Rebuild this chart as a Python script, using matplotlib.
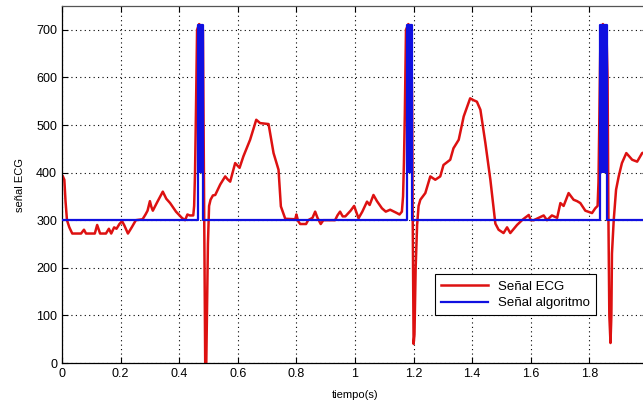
import matplotlib.pyplot as plt
from matplotlib.ticker import FuncFormatter

plt.rcParams['font.family'] = ['Liberation Sans', 'DejaVu Sans']

# Señal ECG (tiempo en s, amplitud)
t_ecg = [0.003, 0.008, 0.012, 0.017, 0.025, 0.035, 0.065, 0.075, 0.082, 0.112,
         0.120, 0.130, 0.150, 0.160, 0.168, 0.178, 0.186, 0.196, 0.205, 0.212,
         0.225, 0.238, 0.252, 0.275, 0.285, 0.292, 0.300, 0.305, 0.310, 0.325,
         0.344, 0.356, 0.369, 0.389, 0.409, 0.420, 0.428, 0.436, 0.448, 0.451,
         0.454, 0.457, 0.461, 0.468, 0.476, 0.481, 0.484, 0.487, 0.489, 0.492,
         0.495, 0.498, 0.502, 0.507, 0.515, 0.523, 0.540, 0.557, 0.565, 0.574,
         0.591, 0.606, 0.619, 0.642, 0.663, 0.676, 0.705, 0.722, 0.732, 0.739,
         0.747, 0.762, 0.796, 0.800, 0.806, 0.813, 0.833, 0.840, 0.855, 0.864,
         0.872, 0.883, 0.892, 0.932, 0.940, 0.949, 0.958, 0.967, 0.985, 0.997,
         1.004, 1.012, 1.025, 1.041, 1.050, 1.063, 1.075, 1.092, 1.105, 1.120,
         1.143, 1.152, 1.160, 1.164, 1.167, 1.170, 1.174, 1.182, 1.191, 1.195,
         1.197, 1.200, 1.203, 1.207, 1.212, 1.217, 1.223, 1.240, 1.257, 1.274,
         1.291, 1.302, 1.325, 1.336, 1.354, 1.371, 1.393, 1.405, 1.416, 1.428,
         1.445, 1.462, 1.479, 1.490, 1.507, 1.519, 1.530, 1.553, 1.570, 1.580,
         1.593, 1.600, 1.610, 1.627, 1.644, 1.655, 1.672, 1.690, 1.701, 1.712,
         1.729, 1.746, 1.758, 1.769, 1.786, 1.809, 1.820, 1.828, 1.831, 1.834,
         1.838, 1.846, 1.858, 1.862, 1.865, 1.868, 1.872, 1.875, 1.877, 1.883,
         1.891, 1.900, 1.911, 1.926, 1.946, 1.963, 1.980, 2.000]
v_ecg = [392, 385, 340, 300, 285, 272, 272, 280, 272, 272,
         290, 272, 272, 282, 272, 285, 282, 292, 298, 290,
         272, 285, 300, 302, 312, 320, 340, 328, 320, 338,
         360, 345, 336, 318, 305, 300, 312, 310, 310, 330,
         400, 520, 700, 712, 705, 700, 420, 150, -20, -20,
         120, 250, 330, 343, 352, 353, 375, 392, 386, 381,
         420, 410, 434, 469, 511, 504, 502, 441, 420, 406,
         329, 303, 302, 312, 298, 292, 292, 300, 305, 318,
         305, 292, 300, 300, 310, 318, 308, 308, 320, 330,
         318, 304, 318, 339, 332, 353, 340, 325, 318, 322,
         315, 312, 318, 350, 420, 520, 700, 712, 700, 550,
         300, 40, 60, 200, 290, 330, 343, 357, 392, 385,
         392, 416, 427, 451, 469, 518, 556, 552, 549, 532,
         462, 385, 293, 280, 273, 285, 273, 290, 300, 305,
         311, 300, 300, 305, 310, 300, 310, 305, 336, 330,
         357, 343, 340, 336, 320, 315, 325, 330, 380, 520,
         700, 712, 700, 600, 300, 100, 42, 100, 230, 300,
         364, 392, 420, 441, 427, 423, 441, 445]

# Señal del algoritmo: umbral 300 y pulsos en los complejos QRS
t_alg = [0.0,
         0.464, 0.464, 0.482, 0.482,
         1.177, 1.177, 1.196, 1.196,
         1.837, 1.837, 1.860, 1.860,
         2.0]
v_alg = [300,
         300, 710, 710, 300,
         300, 710, 710, 300,
         300, 710, 710, 300,
         300]
# zona rellena de cada pulso (inicio, fin, base, tope)
pulse_start = [0.4655, 1.1785, 1.8385]
pulse_end = [0.482, 1.196, 1.860]
pulse_low = 400
pulse_top = 710

red = '#dd1111'
blue = '#1010e0'

fig = plt.figure(figsize=(6.43, 4.08), dpi=100)
ax = fig.add_axes([62 / 643, 45 / 408, 586 / 643, 357 / 408])

ax.plot(t_ecg, v_ecg, color=red, lw=1.8, label='Señal ECG', zorder=2)
ax.plot(t_alg, v_alg, color=blue, lw=1.6, label='Señal algoritmo', zorder=3)
for a, b in zip(pulse_start, pulse_end):
    ax.fill_between([a, b], pulse_low, pulse_top, color=blue, lw=0, zorder=3)

ax.set_xlim(0, 2)
ax.set_ylim(0, 750)
ax.set_xticks([0, 0.2, 0.4, 0.6, 0.8, 1, 1.2, 1.4, 1.6, 1.8])
ax.set_yticks(range(0, 701, 100))
ax.xaxis.set_major_formatter(FuncFormatter(lambda v, p: f'{v:g}'))
ax.tick_params(direction='in', top=True, right=True, labelsize=9, length=4, width=0.8)
ax.grid(True, linestyle=(0, (1, 3)), color='black', lw=0.8)
for s in ax.spines.values():
    s.set_linewidth(0.9)
ax.spines['top'].set_color('#555555')

ax.set_xlabel('tiempo(s)', fontsize=8, labelpad=7)
ax.set_ylabel('señal ECG', fontsize=8, labelpad=8)

leg = ax.legend(loc='lower left', bbox_to_anchor=(0.626, 0.115), fontsize=9.5,
                fancybox=False, framealpha=1, edgecolor='black',
                handlelength=3.5, borderpad=0.45, labelspacing=0.35)
leg.get_frame().set_linewidth(0.8)
leg.set_zorder(5)

plt.savefig('out.png', dpi=100)
